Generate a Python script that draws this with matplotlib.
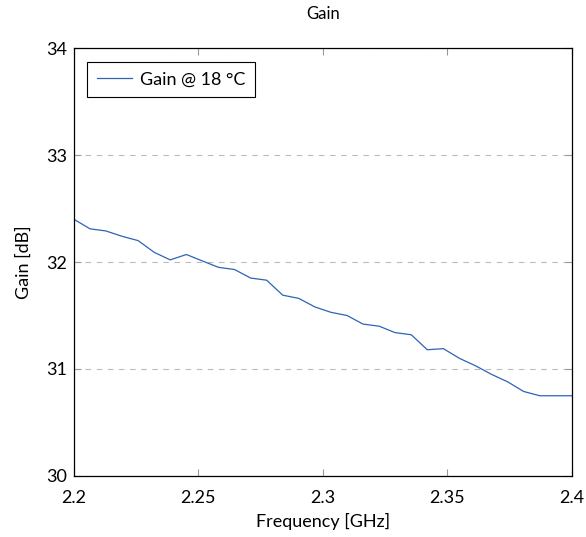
import matplotlib
matplotlib.use('Agg')
import matplotlib.pyplot as plt

plt.rcParams['font.family'] = ['Lato', 'DejaVu Sans']

freq = [2.2, 2.2065, 2.2129, 2.2194, 2.2258, 2.2323, 2.2387, 2.2452,
        2.2516, 2.2581, 2.2645, 2.2710, 2.2774, 2.2839, 2.2903, 2.2968,
        2.3032, 2.3097, 2.3161, 2.3226, 2.3290, 2.3355, 2.3419, 2.3484,
        2.3548, 2.3613, 2.3677, 2.3742, 2.3806, 2.3871, 2.3935, 2.4]
gain = [32.40, 32.31, 32.29, 32.24, 32.20, 32.09, 32.02, 32.07,
        32.01, 31.95, 31.93, 31.85, 31.83, 31.69, 31.66, 31.58,
        31.53, 31.50, 31.42, 31.40, 31.34, 31.32, 31.18, 31.19,
        31.10, 31.03, 30.95, 30.88, 30.79, 30.75, 30.75, 30.75]
xticks = [2.2, 2.25, 2.3, 2.35, 2.4]
xticklabels = ['2.2', '2.25', '2.3', '2.35', '2.4']
yticks = [30, 31, 32, 33, 34]

fig = plt.figure(figsize=(5.86, 5.37), dpi=100)
ax = fig.add_axes([0.126, 0.1136, 0.85, 0.797])

ax.plot(freq, gain, color='#2f63b5', lw=0.9, label='Gain @ 18 °C')

ax.set_xlim(2.2, 2.4)
ax.set_ylim(30, 34)
ax.set_xticks(xticks)
ax.set_xticklabels(xticklabels)
ax.set_yticks(yticks)
ax.yaxis.grid(True, linestyle=(0, (5, 5)), color='#bbbbbb', lw=0.8)
ax.tick_params(direction='in', top=True, right=True, length=5, width=0.8,
               color='#999999', labelsize=13, pad=5)
ax.tick_params(axis='x', pad=10)
for s in ax.spines.values():
    s.set_linewidth(0.9)

ax.set_title('Gain', fontsize=12, pad=21)
ax.set_xlabel('Frequency [GHz]', fontsize=13, labelpad=5)
ax.set_ylabel('Gain [dB]', fontsize=13, labelpad=10)

leg = ax.legend(loc='upper left', fontsize=13, fancybox=False, framealpha=1,
                edgecolor='black', handlelength=1.9, handletextpad=0.45,
                borderaxespad=0.75, borderpad=0.55)
leg.get_frame().set_linewidth(0.8)

fig.savefig('out.png', dpi=100)
